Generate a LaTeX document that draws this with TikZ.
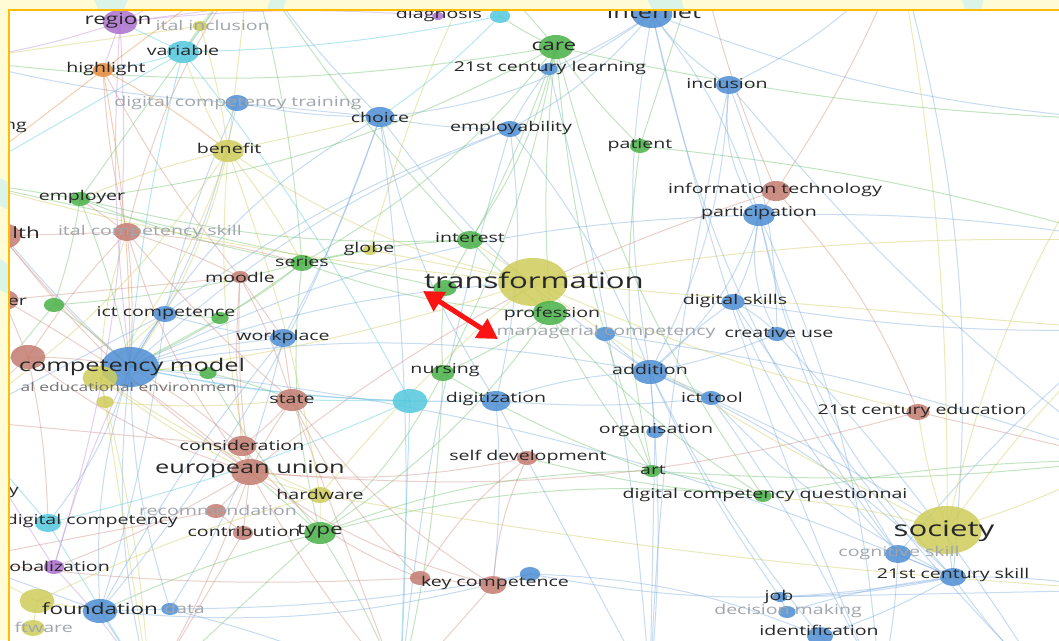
\documentclass[tikz,border=0pt]{standalone}
\usepackage{fontspec}
\setmainfont[FakeStretch=1.45]{Open Sans}
\usetikzlibrary{shapes.geometric,arrows.meta}
\pgfdeclarelayer{back}
\pgfdeclarelayer{edgelayer}
\pgfsetlayers{back,edgelayer,main}
\definecolor{cblue}{RGB}{78,142,212}
\definecolor{cgreen}{RGB}{74,178,72}
\definecolor{cred}{RGB}{196,124,112}
\definecolor{cyel}{RGB}{206,204,90}
\definecolor{ccyan}{RGB}{84,200,222}
\definecolor{cpurp}{RGB}{172,112,206}
\definecolor{corange}{RGB}{232,140,60}
\definecolor{txt}{RGB}{40,40,40}
\definecolor{fade}{RGB}{160,166,172}
\definecolor{midg}{RGB}{115,115,115}
\definecolor{frameC}{RGB}{255,188,0}
\definecolor{outside}{RGB}{255,251,212}
\definecolor{margcyan}{RGB}{218,245,232}
\definecolor{arrowred}{RGB}{250,20,20}
\tikzset{
  bub/.style 2 args={ellipse,inner sep=0pt,draw=none,fill=#1,fill opacity=.85,
    minimum height={#2*2pt},minimum width={#2*2.9pt}},
  lN/.style={text=txt,inner sep=0pt,font=\fontsize{13.5}{15}\selectfont},
  lM/.style={text=txt,inner sep=0pt,font=\fontsize{15.5}{17}\selectfont},
  lL/.style={text=txt,inner sep=0pt,font=\fontsize{17.5}{19}\selectfont},
  lH/.style={text=txt,inner sep=0pt,font=\fontsize{21.5}{23}\selectfont},
  lF/.style={text=fade,inner sep=0pt,font=\fontsize{13.5}{15}\selectfont},
  lG/.style={text=midg,inner sep=0pt,font=\fontsize{12}{14}\selectfont},
  lnk/.style={line width=1pt,draw opacity=.42},
  eB/.style={draw=cblue!75!white},
  eG/.style={draw=cgreen!80!white},
  eR/.style={draw=cred!85!white},
  eY/.style={draw=cyel},
  eC/.style={draw=ccyan},
  eP/.style={draw=cpurp!80!white},
  eO/.style={draw=corange},
  redarrow/.style={{Triangle[length=20pt,width=22pt]}-{Triangle[length=20pt,width=22pt]},
    line width=5pt,draw=arrowred,fill=arrowred},
}
\newcommand\nd[4]{\node[bub={#2}{#3}] (#1) at (#4) {};}
\begin{document}
\begin{tikzpicture}[x=1pt,y=-1pt]
\useasboundingbox (0,0) rectangle (1059,640);
\begin{pgfonlayer}{back}
  \fill[outside] (0,0) rectangle (1059,640);
  \begin{scope}
    \clip (0,0) rectangle (1059,10) (0,0) rectangle (9,640);
    \fill[margcyan] (92,-5) -- (130,-5) -- (124,9) -- (98,9) -- cycle;
    \fill[margcyan] (272,-5) -- (288,-5) -- (283,9) -- (267,9) -- cycle;
    \fill[margcyan] (645,-5) -- (680,-5) -- (684,9) -- (652,9) -- cycle;
    \fill[margcyan] (960,-5) -- (985,-5) -- (981,9) -- (965,9) -- cycle;
    \fill[margcyan] (-5,175) -- (9,183) -- (9,210) -- (-5,203) -- cycle;
    \fill[margcyan] (-5,255) -- (9,265) -- (9,295) -- (-5,287) -- cycle;
  \end{scope}
  \fill[white] (10,10) rectangle (1059,640);
\end{pgfonlayer}

\begin{scope}
\clip (10,10) rectangle (1059,640);
% off-frame anchors for edges that leave the view
\coordinate (ox1) at (1120,120); \coordinate (ox2) at (1120,240);
\coordinate (ox3) at (1120,330); \coordinate (ox4) at (1120,460);
\coordinate (ox5) at (1120,590);
\coordinate (ot1) at (250,-40); \coordinate (ot2) at (480,-40);
\coordinate (ot3) at (700,-40); \coordinate (ot4) at (900,-40);
\coordinate (ol1) at (-40,60); \coordinate (ol2) at (-40,180);
\coordinate (ol3) at (-40,420); \coordinate (ol4) at (-40,560);
\coordinate (ob1) at (150,690); \coordinate (ob2) at (400,690);
\coordinate (ob3) at (650,690); \coordinate (ob4) at (880,690);
\coordinate (ob5) at (1050,690);

% nodes (circles)
\nd{region}{cpurp}{12}{120,22}
\nd{dincl}{cyel}{5}{200,26}
\nd{variable}{ccyan}{11}{183,52}
\nd{highlight}{corange}{7}{103,70}
\nd{dctrain}{cblue}{8}{237,103}
\nd{choice}{cblue}{10}{380,117}
\nd{benefit}{cyel}{11}{228,151}
\nd{employer}{cgreen}{7}{80,199}
\nd{health}{cred}{13}{2,236}
\nd{dcskill}{cred}{9}{127,232}
\nd{series}{cgreen}{8}{302,263}
\nd{globe}{cyel}{5}{370,250}
\nd{interest}{cgreen}{9}{470,240}
\nd{moodle}{cred}{6}{240,277}
\nd{erc}{cred}{10}{4,300}
\nd{gA}{cgreen}{7}{54,305}
\nd{ictcomp}{cblue}{8}{165,314}
\nd{gB}{cgreen}{6}{220,318}
\nd{workplace}{cblue}{9}{283,338}
\nd{bA}{cred}{12}{28,357}
\nd{cmodel}{cblue}{20}{130,367}
\nd{yA}{cyel}{12}{100,378}
\nd{yB}{cyel}{6}{105,402}
\nd{gC}{cgreen}{6}{208,373}
\nd{state}{cred}{11}{292,400}
\nd{transf}{cyel}{24}{533,282}
\nd{gD}{cgreen}{8}{445,288}
\nd{profession}{cgreen}{12}{550,313}
\nd{manag}{cblue}{7}{605,334}
\nd{dskills}{cblue}{8}{733,302}
\nd{creative}{cblue}{7}{777,334}
\nd{nursing}{cgreen}{8}{443,373}
\nd{cA}{ccyan}{12}{410,401}
\nd{digitiz}{cblue}{10}{496,401}
\nd{addition}{cblue}{12}{650,372}
\nd{icttool}{cblue}{7}{711,398}
\nd{eduA}{cred}{8}{918,412}
\nd{organis}{cblue}{6}{655,432}
\nd{consid}{cred}{10}{242,446}
\nd{eu}{cred}{13}{250,472}
\nd{hardware}{cyel}{8}{320,495}
\nd{recomm}{cred}{7}{216,511}
\nd{dcomp}{ccyan}{9}{48,523}
\nd{contrib}{cred}{7}{243,533}
\nd{type}{cgreen}{11}{320,533}
\nd{globali}{cpurp}{7}{54,567}
\nd{selfdev}{cred}{7}{527,458}
\nd{art}{cgreen}{6}{652,471}
\nd{dcq}{cgreen}{6}{763,496}
\nd{society}{cyel}{24}{947,530}
\nd{cogn}{cblue}{9}{898,554}
\nd{sA}{cblue}{9}{953,577}
\nd{keycomp}{cred}{9}{493,585}
\nd{kcA}{cred}{7}{420,578}
\nd{kcB}{cblue}{7}{530,574}
\nd{yC}{cyel}{12}{37,601}
\nd{foundation}{cblue}{12}{100,611}
\nd{data}{cblue}{6}{170,609}
\nd{software}{cyel}{8}{33,628}
\nd{job}{cblue}{5}{780,597}
\nd{decision}{cblue}{6}{787,612}
\nd{ident}{cblue}{9}{820,636}
\nd{diagp}{cpurp}{4}{438,16}
\nd{diagnosis}{ccyan}{7}{500,16}
\nd{internet}{cblue}{14}{652,14}
\nd{care}{cgreen}{12}{556,47}
\nd{learnA}{cblue}{6}{549,69}
\nd{inclusion}{cblue}{9}{729,85}
\nd{employ}{cblue}{8}{510,129}
\nd{patient}{cgreen}{7}{640,146}
\nd{infotech}{cred}{10}{776,191}
\nd{particip}{cblue}{11}{759,215}

% labels
\node[lF,anchor=east] (dincl-l) at (270,25) {ital inclusion};
\node[lF] (dctrain-l) at (238,103) {digital competency training};
\node[lF,anchor=east] (dcskill-l) at (242,232) {ital competency skill};
\node[lF] (manag-l) at (606,332) {managerial competency};
\node[lF] (recomm-l) at (218,510) {recommendation};
\node[lF] (cogn-l) at (899,553) {cognitive skill};
\node[lF] (decision-l) at (788,611) {decision making};
\node[lF,anchor=west] (data-l) at (164,608) {data};
\node[lF,anchor=east] (software-l) at (73,627) {ftware};
\node[lG,anchor=east] (edu-l) at (237,387) {al educational environmen};

\node[lM] (region-l) at (118,21) {region};
\node[lN] (variable-l) at (183,50) {variable};
\node[lN] (highlight-l) at (106,69) {highlight};
\node[lN,anchor=east] (ng-l) at (27,127) {ng};
\node[lN] (choice-l) at (380,117) {choice};
\node[lN] (benefit-l) at (229,148) {benefit};
\node[lN] (employer-l) at (82,197) {employer};
\node[lM,anchor=east] (health-l) at (40,233) {lth};
\node[lN] (series-l) at (302,262) {series};
\node[lN] (globe-l) at (369,249) {globe};
\node[lN] (interest-l) at (470,238) {interest};
\node[lN] (moodle-l) at (240,277) {moodle};
\node[lN,anchor=east] (er-l) at (27,302) {er};
\node[lN] (ictcomp-l) at (166,313) {ict competence};
\node[lN] (workplace-l) at (283,337) {workplace};
\node[lL] (cmodel-l) at (132,367) {competency model};
\node[lN] (state-l) at (292,399) {state};
\node[lH] (transf-l) at (534,280) {transformation};
\node[lN] (profession-l) at (552,314) {profession};
\node[lN] (nursing-l) at (445,370) {nursing};
\node[lN] (digitiz-l) at (496,399) {digitization};
\node[lN] (addition-l) at (650,369) {addition};
\node[lN] (icttool-l) at (712,397) {ict tool};
\node[lN] (organis-l) at (656,430) {organisation};
\node[lN] (dskills-l) at (735,301) {digital skills};
\node[lN] (creative-l) at (779,333) {creative use};
\node[lN] (eduA-l) at (922,411) {21st century education};
\node[lN] (consid-l) at (242,445) {consideration};
\node[lL] (eu-l) at (250,469) {european union};
\node[lN] (hardware-l) at (320,494) {hardware};
\node[lN,anchor=east] (y-l) at (19,492) {y};
\node[lN,anchor=east] (dcomp-l) at (178,521) {digital competency};
\node[lN] (contrib-l) at (244,531) {contribution};
\node[lM] (type-l) at (320,531) {type};
\node[lN,anchor=east] (globali-l) at (110,566) {lobalization};
\node[lN] (selfdev-l) at (528,457) {self development};
\node[lN] (art-l) at (653,470) {art};
\node[lN] (dcq-l) at (765,495) {digital competency questionnai};
\node[lH] (society-l) at (944,531) {society};
\node[lN] (sA-l) at (953,575) {21st century skill};
\node[lN] (keycomp-l) at (495,583) {key competence};
\node[lM] (foundation-l) at (100,609) {foundation};
\node[lN] (job-l) at (779,597) {job};
\node[lN] (ident-l) at (819,630) {identification};
\node[lN] (diagnosis-l) at (439,15) {diagnosis};
\node[lL] (internet-l) at (654,12) {internet};
\node[lM] (care-l) at (554,46) {care};
\node[lN] (learnA-l) at (550,68) {21st century learning};
\node[lN] (inclusion-l) at (727,83) {inclusion};
\node[lN] (employ-l) at (511,128) {employability};
\node[lN] (patient-l) at (640,145) {patient};
\node[lN] (infotech-l) at (775,190) {information technology};
\node[lN] (particip-l) at (759,213) {participation};
\end{scope}

% connectors, beneath the nodes
\begin{pgfonlayer}{edgelayer}
\begin{scope}
\clip (10,10) rectangle (1059,640);
\foreach \a/\b/\c/\t in {
 cmodel/ictcomp/eB/10, cmodel/choice/eB/15, cmodel/foundation/eB/-10,
 cmodel/workplace/eB/5, cmodel/dcomp/eB/10, cmodel/transf/eB/8,
 cmodel/addition/eB/10, cmodel/dctrain/eB/-10, cmodel/particip/eB/12,
 cmodel/sA/eB/8, cmodel/digitiz/eB/-6, cmodel/employ/eB/10,
 cmodel/data/eB/-8, cmodel/ol2/eB/5, cmodel/ob1/eB/-10,
 addition/particip/eB/-15, addition/dskills/eB/5, addition/creative/eB/-5,
 addition/icttool/eB/5, addition/organis/eB/0, addition/manag/eB/5,
 addition/digitiz/eB/-8, addition/internet/eB/10, addition/inclusion/eB/-12,
 addition/sA/eB/10, addition/society/eB/5, addition/job/eB/-5,
 addition/employ/eB/-8, addition/choice/eB/10, addition/ident/eB/-6,
 addition/ob3/eB/5,
 particip/inclusion/eB/20, particip/internet/eB/-10, particip/dskills/eB/10,
 particip/creative/eB/-20, particip/cogn/eB/-10, particip/sA/eB/-15,
 particip/ox2/eB/5, particip/ob4/eB/10,
 internet/inclusion/eB/-10, internet/employ/eB/10, internet/choice/eB/15,
 internet/learnA/eB/5, internet/cogn/eB/-12, internet/ot3/eB/0,
 internet/ox1/eB/-8,
 inclusion/ot4/eB/-10, inclusion/creative/eB/10, inclusion/ox4/eB/-6,
 sA/cogn/eB/0, sA/society/eB/0, sA/job/eB/5, sA/ident/eB/5,
 sA/decision/eB/-5, sA/icttool/eB/10, sA/ox5/eB/5, sA/ob5/eB/-5,
 sA/ot4/eB/-10, cogn/ob4/eB/5, cogn/dskills/eB/10,
 choice/dctrain/eB/5, choice/foundation/eB/10, choice/employ/eB/-5,
 choice/workplace/eB/5, choice/ot1/eB/5, choice/digitiz/eB/-10,
 employ/learnA/eB/5, employ/digitiz/eB/10, employ/ictcomp/eB/-8,
 digitiz/keycomp/eB/5, digitiz/icttool/eB/-5, dskills/creative/eB/10,
 dskills/ox3/eB/-5, workplace/ictcomp/eB/5, workplace/data/eB/10,
 foundation/data/eB/0, foundation/kcB/eB/-10, kcB/ident/eB/10,
 kcB/sA/eB/-10, job/decision/eB/0, ident/ob4/eB/0, dctrain/ol1/eB/5,
 dctrain/choice/eB/0, data/ob2/eB/5, foundation/ob1/eB/0,
 ictcomp/ol3/eB/0, ictcomp/dctrain/eB/5, ictcomp/foundation/eB/5,
 workplace/foundation/eB/-5, foundation/ol4/eB/0, data/kcB/eB/-5,
 choice/ob2/eB/5, employ/ob2/eB/-5, digitiz/ob3/eB/0, organis/ob3/eB/0,
 icttool/ob4/eB/5, manag/ox4/eB/5, learnA/ob3/eB/5, inclusion/ob3/eB/-5,
 internet/ob4/eB/-5, dskills/ob5/eB/-5, cogn/ox3/eB/5, job/ox5/eB/0,
 creative/ob5/eB/5,
 care/patient/eG/-5, care/learnA/eG/0, care/interest/eG/10,
 care/series/eG/10, care/nursing/eG/8, care/profession/eG/-5,
 care/art/eG/-8, care/diagnosis/eG/5, care/employer/eG/10,
 care/dcq/eG/-10, care/gD/eG/5, care/ol1/eG/8, care/ot2/eG/0,
 profession/interest/eG/5, profession/nursing/eG/5, profession/art/eG/-5,
 profession/dcq/eG/-8, profession/series/eG/8, profession/type/eG/10,
 series/interest/eG/5, series/employer/eG/5, series/type/eG/-10,
 series/gA/eG/5, series/gB/eG/5, series/globe/eG/0,
 type/nursing/eG/-10, type/art/eG/10, type/dcq/eG/10, type/gC/eG/5,
 art/dcq/eG/5, art/nursing/eG/5, art/patient/eG/10, art/ox4/eG/-5,
 dcq/ox4/eG/5, dcq/selfdev/eG/5, nursing/gD/eG/5, interest/employer/eG/8,
 patient/ox2/eG/5, employer/gA/eG/5, employer/ol2/eG/0, gC/cmodel/eG/0,
 gB/ictcomp/eG/0, type/ob2/eG/5, gA/ol3/eG/0,
 employer/cmodel/eG/5, employer/ot1/eG/0, gA/cmodel/eG/5, gB/cmodel/eG/0,
 gC/state/eG/5, type/foundation/eG/-5, type/eu/eG/0, type/ob1/eG/0,
 series/cmodel/eG/5, series/ot1/eG/-5, interest/ot1/eG/5, nursing/ob2/eG/5,
 gD/ol2/eG/0, patient/ot3/eG/0, care/ox1/eG/-5,
 eu/consid/eR/0, eu/state/eR/5, eu/recomm/eR/5, eu/contrib/eR/0,
 eu/dcskill/eR/10, eu/keycomp/eR/-10, eu/selfdev/eR/-8, eu/moodle/eR/5,
 eu/infotech/eR/10, eu/eduA/eR/-10, eu/bA/eR/10, eu/health/eR/8,
 eu/ob1/eR/5, state/consid/eR/5, state/keycomp/eR/-10, state/moodle/eR/-5,
 state/kcA/eR/-10, dcskill/moodle/eR/5, dcskill/bA/eR/-5,
 dcskill/health/eR/0, dcskill/highlight/eR/5, dcskill/ot1/eR/10,
 keycomp/kcA/eR/0, keycomp/selfdev/eR/10, keycomp/ob2/eR/0,
 infotech/eduA/eR/10, infotech/ot3/eR/5, infotech/ot4/eR/-5,
 selfdev/kcA/eR/-10, moodle/erc/eR/0, recomm/contrib/eR/0,
 bA/cmodel/eR/5, bA/erc/eR/0, consid/kcA/eR/-15, eduA/ox4/eR/0,
 infotech/particip/eR/0, kcA/ol4/eR/5,
 dcskill/cmodel/eR/5, dcskill/employer/eR/0, dcskill/series/eR/5,
 dcskill/state/eR/-5, consid/moodle/eR/5, consid/cmodel/eR/-5,
 consid/ol3/eR/0, state/ob2/eR/0, state/workplace/eR/0, eu/ob2/eR/-5,
 eu/globali/eR/5, recomm/ol4/eR/0, contrib/ob1/eR/0, moodle/workplace/eR/0,
 moodle/highlight/eR/5, bA/ol3/eR/0, bA/dcomp/eR/5, health/cmodel/eR/-5,
 erc/eu/eR/5,
 transf/society/eY/-5, transf/benefit/eY/10, transf/globe/eY/0,
 transf/hardware/eY/-5, transf/eduA/eY/-5, transf/profession/eY/0,
 transf/interest/eY/0, transf/ox2/eY/5, transf/ox3/eY/0, transf/yA/eY/5,
 transf/ol2/eY/5, society/eduA/eY/5, society/dcq/eY/-5, society/ox3/eY/5,
 society/ox4/eY/-5, society/ox1/eY/10, society/ot4/eY/-5,
 benefit/dincl/eY/-5, benefit/hardware/eY/5, benefit/yA/eY/10,
 benefit/ot1/eY/0, benefit/choice/eY/0, hardware/yA/eY/5,
 hardware/yC/eY/-5, yA/yB/eY/0, yC/software/eY/0, dincl/ol1/eY/0,
 yB/ob1/eY/0, globe/ot2/eY/5, hardware/ox5/eY/-3,
 benefit/cmodel/eY/10, benefit/eu/eY/-8, benefit/series/eY/5,
 benefit/variable/eY/5, benefit/employer/eY/-5, benefit/ol3/eY/10,
 yA/ictcomp/eY/5, yA/eu/eY/-5, yA/dcskill/eY/8, yA/ob1/eY/5,
 hardware/eu/eY/5, hardware/type/eY/0, dincl/variable/eY/0,
 dincl/ot1/eY/0, yC/foundation/eY/0, yC/ol4/eY/0, yB/state/eY/-5,
 variable/region/eC/0, variable/cA/eC/5, variable/diagnosis/eC/-5,
 variable/highlight/eC/5, cA/dcomp/eC/5, cA/digitiz/eC/0, cA/cmodel/eC/5,
 dcomp/ol3/eC/0, diagnosis/ot2/eC/0,
 variable/cmodel/eC/-5, variable/ot1/eC/0, variable/ol2/eC/0,
 cA/ob2/eC/0, dcomp/ob1/eC/0, diagnosis/choice/eC/5, cA/state/eC/0,
 region/globali/eP/10, region/highlight/eP/0, region/ot1/eP/0,
 region/ol1/eP/5, globali/ob1/eP/5, diagp/region/eP/-5,
 region/cmodel/eP/-5, region/ot2/eP/-3, globali/cmodel/eP/5,
 globali/ol3/eP/0, diagp/ot1/eP/0,
 highlight/ol2/eO/0, highlight/benefit/eO/5, highlight/cmodel/eO/5,
 highlight/ot1/eO/0}
 {\draw[lnk,\c] (\a.center) to[bend left=\t] (\b.center);}
\end{scope}
\end{pgfonlayer}

% frame
\draw[frameC,line width=2.5pt] (9,641) -- (9,10) -- (1060,10);

% red double arrow
\coordinate (arrA) at (423,291);
\coordinate (arrB) at (498,339);
\draw[redarrow] (arrA) -- (arrB);
\end{tikzpicture}
\end{document}
